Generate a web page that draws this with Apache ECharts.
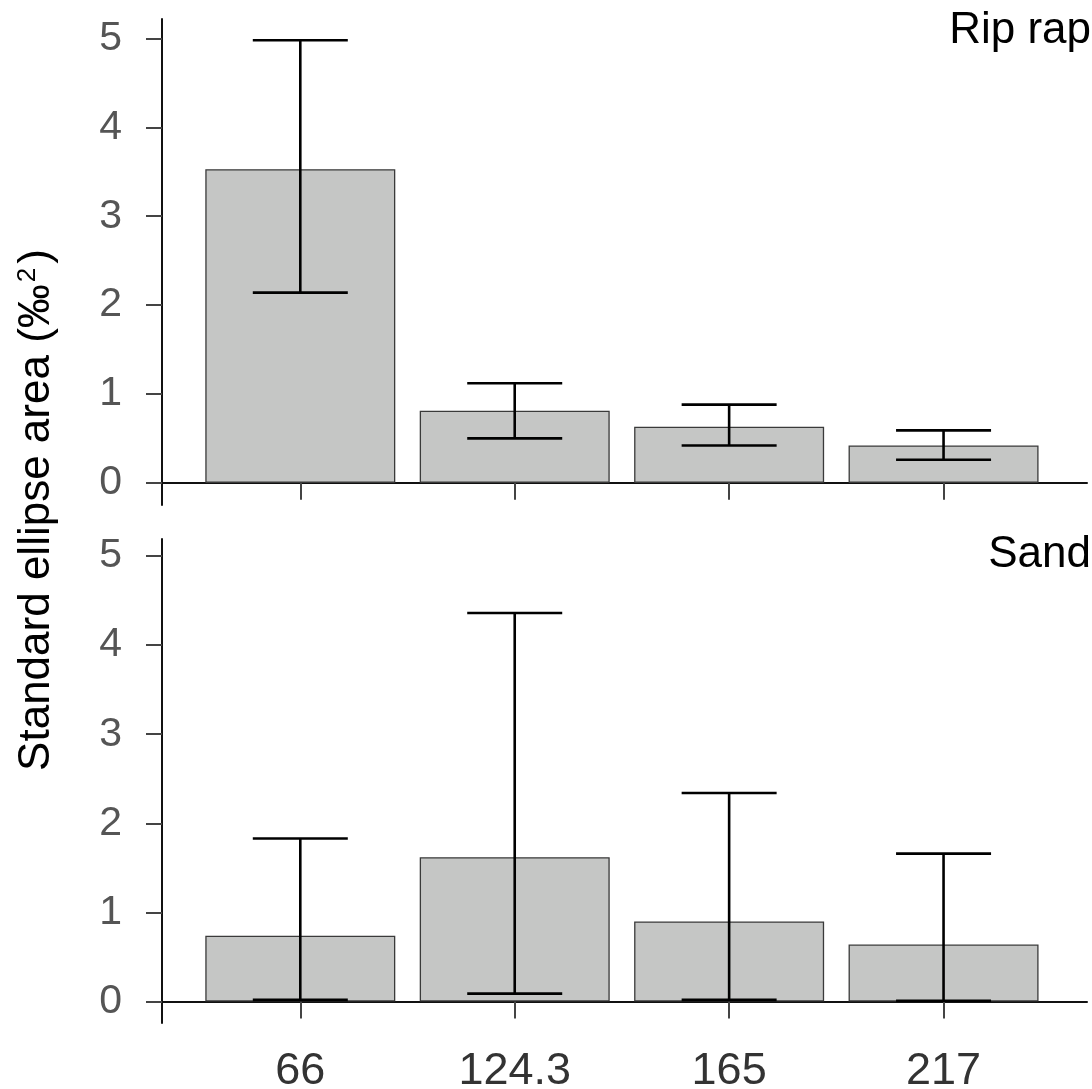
<!DOCTYPE html>
<html>
<head>
<meta charset="utf-8">
<style>
  html, body { margin: 0; padding: 0; background: #fff; }
  #chart { width: 1092px; height: 1089px; }
</style>
<script src="https://cdn.jsdelivr.net/npm/echarts@6/dist/echarts.min.js"></script>
</head>
<body>
<div id="chart"></div>
<script>
var categories = ['66', '124.3', '165', '217'];
var yTicks = [0, 1, 2, 3, 4, 5];

// Rip rap panel
var ripMean = [3.53, 0.81, 0.63, 0.42];
var ripLow = [2.14, 0.50, 0.42, 0.26];
var ripHigh = [4.98, 1.12, 0.88, 0.59];

// Sand panel
var sandMean = [0.74, 1.62, 0.90, 0.64];
var sandLow = [0.02, 0.09, 0.02, 0.01];
var sandHigh = [1.83, 4.36, 2.34, 1.66];

var font = "'Liberation Sans', Arial, sans-serif";
var xIdx = categories.map(function (c, i) { return i; });

var chartDom = document.getElementById('chart');
var chart = echarts.init(chartDom);

function barData(vals) {
  return vals.map(function (v, i) { return [i, v]; });
}
function errData(lo, hi) {
  return lo.map(function (v, i) { return [i, v, hi[i]]; });
}

function renderErr(params, api) {
  var x = api.value(0);
  var pLo = api.coord([x, api.value(1)]);
  var pHi = api.coord([x, api.value(2)]);
  var hw = 47.5;
  var st = { stroke: '#000', lineWidth: 2.6 };
  return {
    type: 'group',
    children: [
      { type: 'line', shape: { x1: pHi[0], y1: pHi[1], x2: pLo[0], y2: pLo[1] }, style: st },
      { type: 'line', shape: { x1: pHi[0] - hw, y1: pHi[1], x2: pHi[0] + hw, y2: pHi[1] }, style: st },
      { type: 'line', shape: { x1: pLo[0] - hw, y1: pLo[1], x2: pLo[0] + hw, y2: pLo[1] }, style: st }
    ]
  };
}

function xAxisCfg(gridIndex, showLabels) {
  return {
    type: 'value',
    gridIndex: gridIndex,
    min: -0.645,
    max: 3.669,
    axisLine: { show: true, onZero: true, lineStyle: { color: '#111', width: 2 } },
    axisTick: { show: true, customValues: xIdx, length: 17, lineStyle: { color: '#444', width: 2 } },
    axisLabel: {
      show: showLabels,
      customValues: xIdx,
      margin: 26,
      fontSize: 45,
      color: '#333',
      fontFamily: font,
      formatter: function (v) { return categories[Math.round(v)]; }
    },
    splitLine: { show: false }
  };
}

function yAxisCfg(gridIndex, min, max) {
  return {
    type: 'value',
    gridIndex: gridIndex,
    min: min,
    max: max,
    axisLine: { show: true, onZero: false, lineStyle: { color: '#111', width: 2 } },
    axisTick: { show: true, customValues: yTicks, length: 16, lineStyle: { color: '#444', width: 2 } },
    axisLabel: { customValues: yTicks, margin: 40, fontSize: 41, color: '#555', fontFamily: font },
    splitLine: { show: false }
  };
}

var barStyle = { color: '#c5c6c5', borderColor: '#3a3a3a', borderWidth: 1.3 };

var option = {
  backgroundColor: '#fff',
  animation: false,
  title: [
    { text: 'Rip rap', right: 1, top: 9, padding: 0,
      textStyle: { fontSize: 44, fontWeight: 'normal', color: '#000', fontFamily: font } },
    { text: 'Sand', right: 1, top: 533, padding: 0,
      textStyle: { fontSize: 44, fontWeight: 'normal', color: '#000', fontFamily: font } }
  ],
  grid: [
    { left: 162, width: 925, top: 19, height: 486, outerBoundsMode: 'none' },
    { left: 162, width: 925, top: 539, height: 484, outerBoundsMode: 'none' }
  ],
  xAxis: [xAxisCfg(0, false), xAxisCfg(1, true)],
  yAxis: [yAxisCfg(0, -0.25, 5.22), yAxisCfg(1, -0.24, 5.19)],
  graphic: [{
    type: 'text',
    x: 37,
    y: 510,
    rotation: Math.PI / 2,
    style: {
      text: '{a|Standard ellipse area (‰}{s|2}{a|)}',
      align: 'center',
      verticalAlign: 'middle',
      fill: '#000',
      rich: {
        a: { fontSize: 44, fontFamily: font, fill: '#000' },
        s: { fontSize: 26, fontFamily: font, fill: '#000', verticalAlign: 'top', padding: [0, 4, 14, 2] }
      }
    }
  }],
  series: [
    { type: 'bar', xAxisIndex: 0, yAxisIndex: 0, barWidth: 190, data: barData(ripMean), itemStyle: barStyle },
    { type: 'custom', xAxisIndex: 0, yAxisIndex: 0, z: 5, renderItem: renderErr, data: errData(ripLow, ripHigh) },
    { type: 'bar', xAxisIndex: 1, yAxisIndex: 1, barWidth: 190, data: barData(sandMean), itemStyle: barStyle },
    { type: 'custom', xAxisIndex: 1, yAxisIndex: 1, z: 5, renderItem: renderErr, data: errData(sandLow, sandHigh) }
  ]
};

chart.setOption(option);

window.addEventListener('resize', function () {
  chart.resize();
});
</script>
</body>
</html>
